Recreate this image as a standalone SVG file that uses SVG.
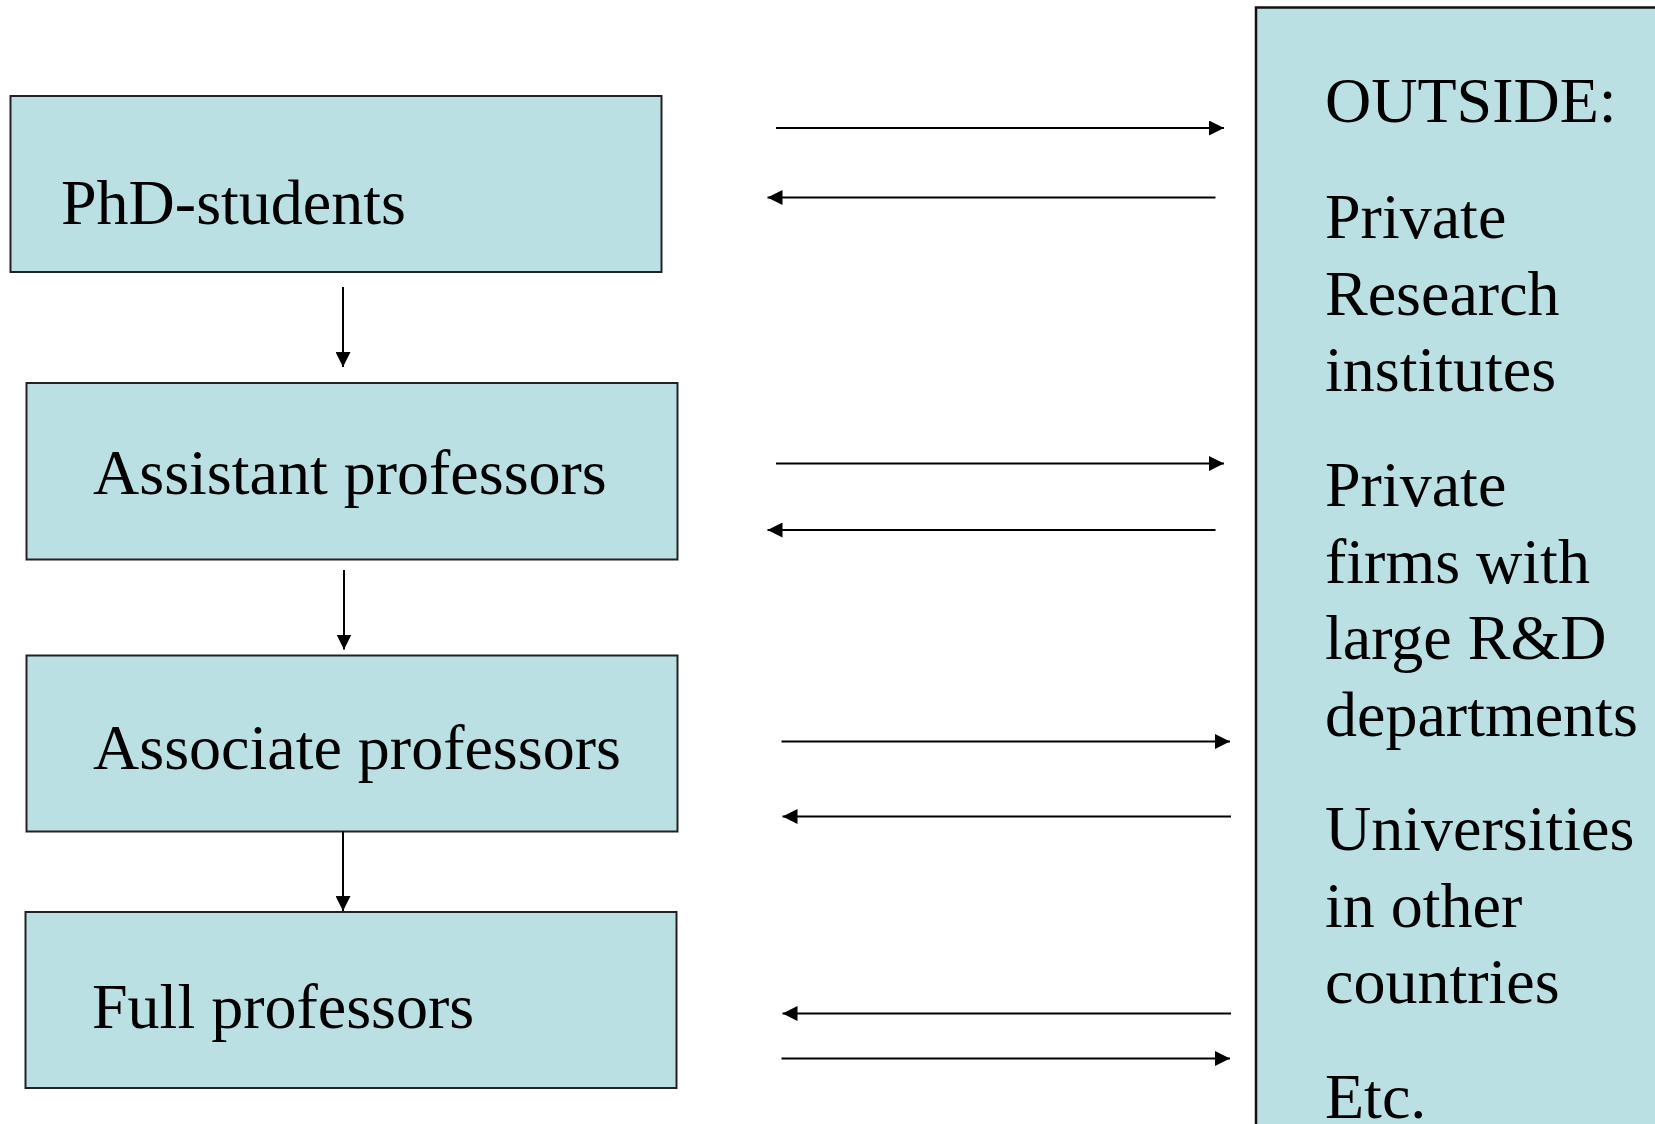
<svg xmlns="http://www.w3.org/2000/svg" width="1655" height="1124" viewBox="0 0 1655 1124">
<style>
  .box { fill: #BBE0E3; stroke: #222; stroke-width: 2; }
  .panel { fill: #BBE0E3; stroke: #111; stroke-width: 2.5; }
  .lbl { font-family: "Liberation Serif", "Times New Roman", serif; font-size: 64px; fill: #000; }
  .conn { stroke: #000; stroke-width: 2; fill: none; marker-end: url(#ah); }
</style>
<defs>
  <marker id="ah" viewBox="0 0 15 15" markerWidth="15" markerHeight="15" refX="15" refY="7.5" orient="auto" markerUnits="userSpaceOnUse">
    <path d="M0,0 L15,7.5 L0,15 z" fill="#000"/>
  </marker>
</defs>
<rect width="1655" height="1124" fill="#fff"/>
<g id="phd">
  <rect class="box" x="10.5" y="96" width="651" height="176"/>
  <text class="lbl" x="61" y="223.5">PhD-students</text>
</g>
<g id="assistant">
  <rect class="box" x="26.5" y="383" width="651" height="176.5"/>
  <text class="lbl" x="93" y="494">Assistant professors</text>
</g>
<g id="associate">
  <rect class="box" x="26.5" y="655.5" width="651" height="176"/>
  <text class="lbl" x="93" y="769">Associate professors</text>
</g>
<g id="full">
  <rect class="box" x="25.5" y="912" width="651" height="176"/>
  <text class="lbl" x="92" y="1028">Full professors</text>
</g>
<g id="outside">
  <rect class="panel" x="1256" y="7.5" width="440" height="1140"/>
  <text class="lbl" x="1325" y="122">OUTSIDE:</text>
  <text class="lbl" x="1325" y="238">Private</text>
  <text class="lbl" x="1325" y="314.5">Research</text>
  <text class="lbl" x="1325" y="391">institutes</text>
  <text class="lbl" x="1325" y="506">Private</text>
  <text class="lbl" x="1325" y="582.5">firms with</text>
  <text class="lbl" x="1325" y="659">large R&amp;D</text>
  <text class="lbl" x="1325" y="735.5">departments</text>
  <text class="lbl" x="1325" y="850">Universities</text>
  <text class="lbl" x="1325" y="926.5">in other</text>
  <text class="lbl" x="1325" y="1003">countries</text>
  <text class="lbl" x="1325" y="1118">Etc.</text>
</g>
<g id="connectors">
  <line class="conn" x1="343" y1="287" x2="343" y2="367"/>
  <line class="conn" x1="344" y1="570" x2="344" y2="649.5"/>
  <line class="conn" x1="343" y1="831.5" x2="343" y2="911"/>
  <line class="conn" x1="776" y1="128" x2="1224" y2="128"/>
  <line class="conn" x1="1215.5" y1="197.5" x2="767.5" y2="197.5"/>
  <line class="conn" x1="776" y1="463.5" x2="1224" y2="463.5"/>
  <line class="conn" x1="1215.5" y1="530" x2="767.5" y2="530"/>
  <line class="conn" x1="781.5" y1="741.5" x2="1230" y2="741.5"/>
  <line class="conn" x1="1231" y1="816.5" x2="782.5" y2="816.5"/>
  <line class="conn" x1="1231" y1="1013.5" x2="782.5" y2="1013.5"/>
  <line class="conn" x1="781.5" y1="1058.5" x2="1230" y2="1058.5"/>
</g>
</svg>
